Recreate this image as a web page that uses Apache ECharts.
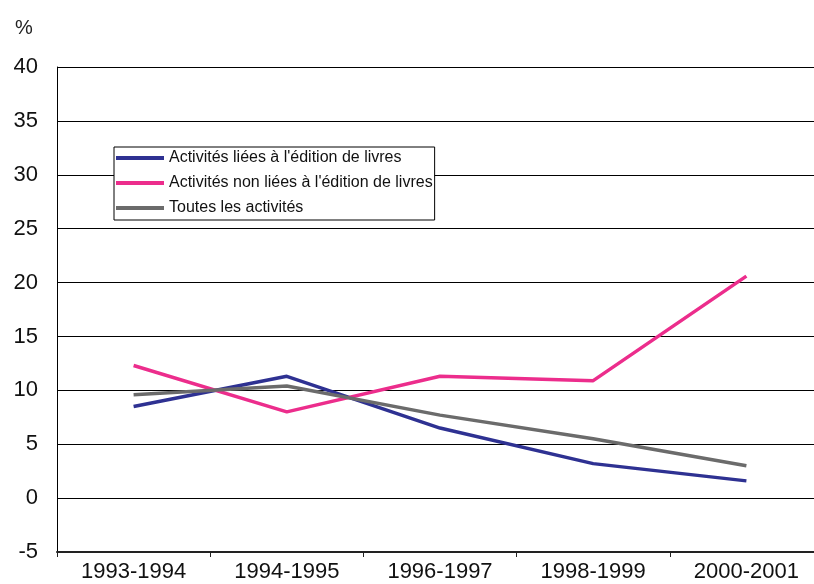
<!DOCTYPE html>
<html>
<head>
<meta charset="utf-8">
<script src="https://cdn.jsdelivr.net/npm/echarts@6/dist/echarts.min.js"></script>
<style>
  html, body { margin: 0; padding: 0; background: #fff; overflow: hidden; }
  /* le tracé déborde un peu à droite de la fenêtre, comme sur l'original */
  #chart { width: 823px; height: 584px; }
</style>
</head>
<body>
<div id="chart"></div>
<script>
  // données (%)
  const categories = ['1993-1994', '1994-1995', '1996-1997', '1998-1999', '2000-2001'];
  const livres = [8.5, 11.3, 6.5, 3.2, 1.6];
  const nonLivres = [12.3, 8.0, 11.3, 10.9, 20.6];
  const toutes = [9.6, 10.4, 7.7, 5.5, 3.0];
  const seriesNames = [
    "Activités liées à l'édition de livres",
    "Activités non liées à l'édition de livres",
    'Toutes les activités'
  ];
  const colors = ['#2e3192', '#ec2d8c', '#6b6b6b'];

  const font = 'Liberation Sans, Arial, sans-serif';
  const chart = echarts.init(document.getElementById('chart'));

  const mkSeries = (name, data, color) => ({
    type: 'line',
    name: name,
    data: data,
    symbol: 'none',
    lineStyle: { color: color, width: 3.5 },
    itemStyle: { color: color },
    animation: false
  });

  chart.setOption({
    backgroundColor: '#fff',
    textStyle: { fontFamily: font },
    graphic: [{
      type: 'text',
      left: 15,
      top: 18,
      style: { text: '%', fontSize: 20, fill: '#222', fontFamily: font }
    }],
    legend: {
      orient: 'vertical',
      left: 114,
      top: 147,
      data: seriesNames,
      icon: 'rect',
      itemWidth: 48,
      itemHeight: 4,
      itemGap: 9,
      padding: [3, 2, 4, 2],
      backgroundColor: '#fff',
      borderColor: '#000',
      borderWidth: 1,
      borderRadius: 0,
      textStyle: { fontSize: 16, lineHeight: 16, color: '#111', fontFamily: font }
    },
    grid: { left: 57, right: 0, top: 67, bottom: 32, containLabel: false },
    xAxis: {
      type: 'category',
      data: categories,
      boundaryGap: true,
      axisLine: { onZero: false, lineStyle: { color: '#222', width: 2 } },
      axisTick: { show: true, length: 5, lineStyle: { color: '#222' } },
      axisLabel: { fontSize: 22, color: '#111', margin: 9, fontFamily: font }
    },
    yAxis: {
      type: 'value',
      min: -5,
      max: 40,
      interval: 5,
      axisLine: { show: true, lineStyle: { color: '#000', width: 1 } },
      axisTick: { show: false },
      axisLabel: { fontSize: 22, color: '#111', margin: 19, fontFamily: font },
      splitLine: { lineStyle: { color: '#000', width: 1 } }
    },
    series: [
      mkSeries(seriesNames[0], livres, colors[0]),
      mkSeries(seriesNames[1], nonLivres, colors[1]),
      mkSeries(seriesNames[2], toutes, colors[2])
    ]
  });
</script>
</body>
</html>
